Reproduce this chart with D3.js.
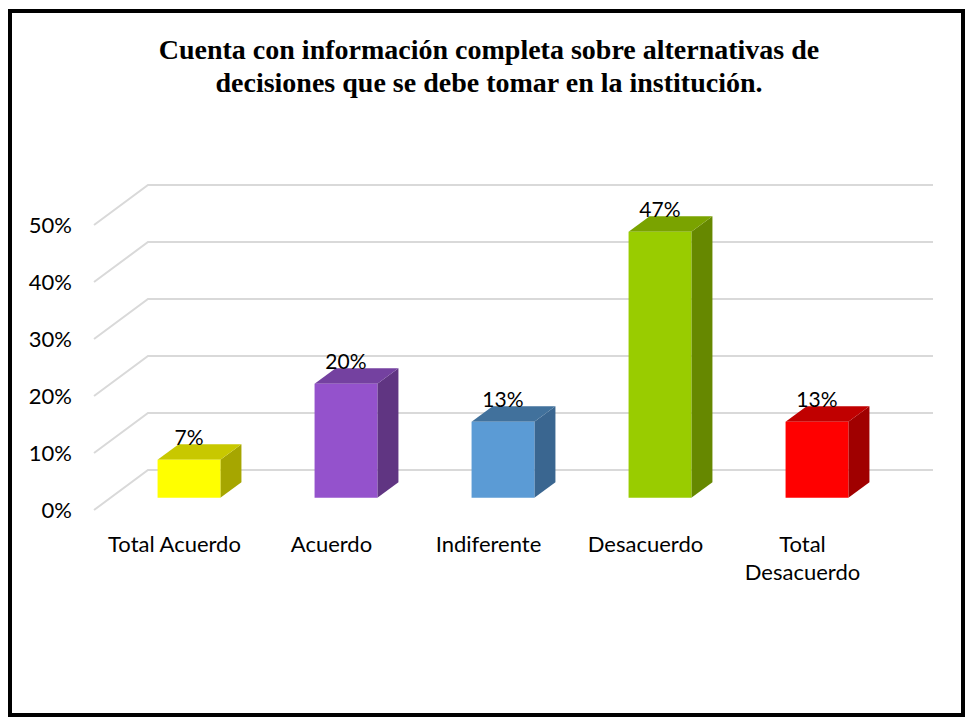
<!DOCTYPE html>
<html>
<head>
<meta charset="utf-8">
<script src="https://cdn.jsdelivr.net/npm/d3@7"></script>
<style>
  body { margin: 0; background: #fff; }
  text { font-family: Lato, "Open Sans", sans-serif; }
</style>
</head>
<body>
<div id="chart-area"></div>
<script>
// chart data
var categories = ["Total Acuerdo", "Acuerdo", "Indiferente", "Desacuerdo", "Total Desacuerdo"];
var values = [6.67, 20, 13.33, 46.67, 13.33];
var tickValues = [0, 10, 20, 30, 40, 50];
var titleLines = ["Cuenta con información completa sobre alternativas de",
                  "decisiones que se debe tomar en la institución."];

// front / top / side colours of each bar
var frontColors = ["#ffff00", "#9452cc", "#5b9bd5", "#99cc00", "#ff0000"];
var topColors   = ["#c8c800", "#7441a0", "#41719c", "#7aa300", "#c00000"];
var sideColors  = ["#a6a600", "#603582", "#3a6690", "#668800", "#a00000"];

var width = 971, height = 720;
var DX = 54, DY = -40;        // depth offset of the back wall
var d0 = 0.305, d1 = 0.695;   // bar front / back depth

var svg = d3.select("#chart-area").append("svg")
    .attr("width", width)
    .attr("height", height);

svg.append("rect")
    .attr("width", width).attr("height", height)
    .attr("fill", "#fff");

svg.append("rect")
    .attr("x", 10).attr("y", 11)
    .attr("width", 953).attr("height", 704)
    .attr("fill", "none")
    .attr("stroke", "#000")
    .attr("stroke-width", 4);

// title
svg.append("text")
    .attr("text-anchor", "middle")
    .style("font-family", "'Liberation Serif', 'Times New Roman', serif")
    .style("font-weight", "bold")
    .style("font-size", "28px")
    .selectAll("tspan")
    .data(titleLines)
    .enter().append("tspan")
        .attr("x", 489)
        .attr("y", (d, i) => 59 + i * 33)
        .text(d => d);

var x = d3.scaleBand()
    .domain(categories)
    .range([94, 879]);

var y = d3.scaleLinear()
    .domain([0, 50])
    .range([510, 225]);

var proj = (px, v, d) => [px + d * DX, y(v) + d * DY];

// gridlines: side wall + back wall
var grid = svg.append("g");
grid.selectAll("polyline")
    .data(tickValues)
    .enter().append("polyline")
        .attr("points", (t) => {
            var p0 = [94, y(t)];
            var p1 = [94 + DX, y(t) + DY];
            var p2 = [x.range()[1] + DX, y(t) + DY];
            return [p0, p1, p2].map(p => p.join(",")).join(" ");
        })
        .attr("fill", "none")
        .attr("stroke", "#d9d9d9")
        .attr("stroke-width", 2);

grid.selectAll("text")
    .data(tickValues)
    .enter().append("text")
        .attr("x", 72)
        .attr("y", (t) => y(t))
        .attr("dy", "0.35em")
        .attr("text-anchor", "end")
        .style("font-size", "22px")
        .attr("fill", "#000")
        .text(t => t + "%");

// bars
var barW = x.bandwidth() * 0.4;
var bars = svg.selectAll("g.bar")
    .data(values)
    .enter().append("g")
        .attr("class", "bar");

var poly = (pts) => pts.map(p => p.join(",")).join(" ");

bars.append("polygon")
    .attr("points", (d, i) => {
        var xl = x(categories[i]) + (x.bandwidth() - barW) / 2, xr = xl + barW;
        return poly([proj(xr, 0, d0), proj(xr, d, d0), proj(xr, d, d1), proj(xr, 0, d1)]);
    })
    .attr("fill", (d, i) => sideColors[i]);

bars.append("polygon")
    .attr("points", (d, i) => {
        var xl = x(categories[i]) + (x.bandwidth() - barW) / 2, xr = xl + barW;
        return poly([proj(xl, d, d0), proj(xr, d, d0), proj(xr, d, d1), proj(xl, d, d1)]);
    })
    .attr("fill", (d, i) => topColors[i]);

bars.append("polygon")
    .attr("points", (d, i) => {
        var xl = x(categories[i]) + (x.bandwidth() - barW) / 2, xr = xl + barW;
        return poly([proj(xl, 0, d0), proj(xr, 0, d0), proj(xr, d, d0), proj(xl, d, d0)]);
    })
    .attr("fill", (d, i) => frontColors[i]);

// data labels
bars.append("text")
    .attr("x", (d, i) => x(categories[i]) + x.bandwidth() / 2 + d0 * DX)
    .attr("y", (d) => y(d) + d1 * DY + 1)
    .attr("text-anchor", "middle")
    .style("font-size", "21px")
    .attr("fill", "#000")
    .text(d => Math.round(d) + "%");

// category labels (wrap long ones)
var catLabels = svg.selectAll("text.cat")
    .data(categories)
    .enter().append("text")
        .attr("class", "cat")
        .attr("text-anchor", "middle")
        .style("font-size", "22px")
        .attr("fill", "#000");

catLabels.each(function(d) {
    var el = d3.select(this);
    var cx = x(d) + x.bandwidth() / 2 + 2;
    var lines = d.length > 14 ? d.split(" ") : [d];
    lines.forEach((line, j) => {
        el.append("tspan")
            .attr("x", cx)
            .attr("y", 552 + j * 28)
            .text(line);
    });
});
</script>
</body>
</html>
